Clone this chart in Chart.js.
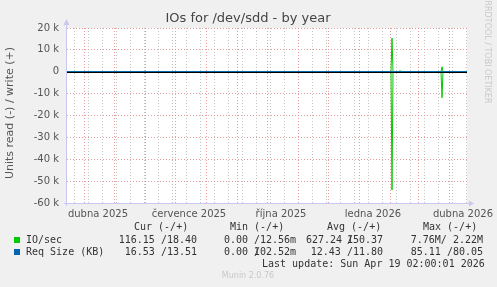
<!DOCTYPE html>
<html>
<head>
<meta charset="utf-8">
<script src="https://cdn.jsdelivr.net/npm/chart.js@4/dist/chart.umd.min.js"></script>
<style>
  html, body { margin: 0; padding: 0; background: #f0f0f0; }
  canvas { display: block; }
</style>
</head>
<body>
<canvas id="chart" width="497" height="287"></canvas>
<script>
(function() {
    'use strict';

    // x values are days since the start of the 400 day window (15 Mar 2025)
    var readDays  = [0, 259, 260, 261, 273, 274, 275, 300, 301, 302, 324, 325, 326, 374, 375, 376, 400];
    var readVals  = [0, 0, -400, 0, 0, -500, 0, 0, -400, 0, 0, -54100, 0, 0, -11900, 0, 0];
    var writeDays = [0, 324, 325, 326, 332, 333, 334, 374, 375, 376, 400];
    var writeVals = [0, 0, 15400, 0, 0, 600, 0, 0, 2300, 0, 0];

    // request size series (KB) - far too small to show at this scale
    var reqDays  = [0, 400];
    var reqRead  = [-12.43, -16.53];
    var reqWrite = [11.80, 13.51];

    // grid: month starts (red), every second week (grey), quarter labels mid month
    var monthStarts = [17, 47, 78, 108, 139, 170, 200, 231, 261, 292, 323, 351, 382];
    var labelDays   = [31, 122, 214, 306, 396];
    var labelNames  = ['dubna 2025', 'července 2025', 'října 2025', 'ledna 2026', 'dubna 2026'];

    var legendRows = [
        { name: 'IO/sec',        color: '#00cc00', cur: '116.15 /18.40', min: ['0.00', '/', '12.56m'],  avg: ['627.24', '/', '150.37'], max: '7.76M/ 2.22M' },
        { name: 'Req Size (KB)', color: '#0066b3', cur: '16.53 /13.51',  min: ['0.00', '/', '102.52m'], avg: ['12.43 /11.80'],         max: '85.11 /80.05' }
    ];

    var minorDays = [];
    for (var d = 7; d <= 400; d += 14) minorDays.push(d);

    function pts(xs, ys) {
        return xs.map(function(x, i) { return { x: x, y: ys[i] }; });
    }

    function kind(v) {
        if (labelDays.indexOf(v) >= 0) return 'label';
        if (monthStarts.indexOf(v) >= 0) return 'major';
        return 'minor';
    }

    var RED = 'rgba(232,140,140,0.85)';
    var GREY = 'rgba(190,190,190,0.9)';
    var MONO = '10px "DejaVu Sans Mono"';

    var decor = {
        id: 'decor',
        beforeDraw: function(chart) {
            var c = chart.ctx, a = chart.chartArea;
            c.save();
            c.fillStyle = '#f0f0f0';
            c.fillRect(0, 0, chart.width, chart.height);
            c.fillStyle = '#ffffff';
            c.fillRect(a.left, a.top, a.right - a.left, a.bottom - a.top);
            c.restore();
        },
        afterDatasetsDraw: function(chart) {
            // black zero rule over the data
            var c = chart.ctx, a = chart.chartArea;
            var y0 = Math.round(chart.scales.y.getPixelForValue(0)) + 0.5;
            c.save();
            c.strokeStyle = '#000';
            c.lineWidth = 1;
            c.beginPath();
            c.moveTo(a.left, y0);
            c.lineTo(a.right, y0);
            c.stroke();
            c.restore();
        },
        afterDraw: function(chart) {
            var c = chart.ctx, a = chart.chartArea;
            c.save();

            // axes with arrow heads
            c.strokeStyle = '#c8c8f0';
            c.fillStyle = '#c8c8f0';
            c.lineWidth = 1;
            c.beginPath();
            c.moveTo(a.left - 0.5, a.bottom + 3);
            c.lineTo(a.left - 0.5, a.top - 4);
            c.moveTo(a.left - 3, a.bottom + 0.5);
            c.lineTo(a.right + 2, a.bottom + 0.5);
            c.stroke();
            c.beginPath();
            c.moveTo(a.left - 3.5, a.top - 3);
            c.lineTo(a.left + 2.5, a.top - 3);
            c.lineTo(a.left - 0.5, a.top - 9);
            c.closePath();
            c.fill();
            c.beginPath();
            c.moveTo(a.right + 2, a.bottom - 2.5);
            c.lineTo(a.right + 2, a.bottom + 3.5);
            c.lineTo(a.right + 7, a.bottom + 0.5);
            c.closePath();
            c.fill();

            // title
            c.fillStyle = '#444';
            c.font = '13px "DejaVu Sans"';
            c.textAlign = 'center';
            c.textBaseline = 'middle';
            c.fillText('IOs for /dev/sdd - by year', 248, 19);

            // vertical axis title
            c.save();
            c.translate(10, 113);
            c.rotate(-Math.PI / 2);
            c.fillStyle = '#555';
            c.font = '11px "DejaVu Sans"';
            c.fillText('Units read (-) / write (+)', 0, 0);
            c.restore();

            // rrdtool credit
            c.save();
            c.translate(487, 52);
            c.rotate(Math.PI / 2);
            c.fillStyle = '#c8c8c8';
            c.font = '8px "DejaVu Sans"';
            c.fillText('RRDTOOL / TOBI OETIKER', 0, 0);
            c.restore();

            // legend table
            c.font = MONO;
            c.textAlign = 'left';
            c.fillStyle = '#333';
            c.fillText('Cur (-/+)', 134, 227);
            c.fillText('Min (-/+)', 230, 227);
            c.fillText('Avg (-/+)', 327, 227);
            c.fillText('Max (-/+)', 423, 227);

            legendRows.forEach(function(row, i) {
                var y = 240 + i * 12;
                c.fillStyle = row.color;
                c.fillRect(14, y - 3, 6, 6);
                c.fillStyle = '#333';
                c.fillText(row.name, 26, y);
                c.textAlign = 'right';
                c.fillText(row.cur, 197, y);
                c.textAlign = 'left';
                c.fillText(row.min[0], 224, y);
                if (row.min.length > 1) {
                    c.fillText(row.min[1], 254, y);
                    c.textAlign = 'right';
                    c.fillText(row.min[2], 296, y);
                    c.textAlign = 'left';
                }
                c.textAlign = 'right';
                if (row.avg.length > 1) {
                    c.textAlign = 'left';
                    c.fillText(row.avg[0], 306, y);
                    c.fillText(row.avg[1], 347, y);
                    c.textAlign = 'right';
                    c.fillText(row.avg[2], 383, y);
                } else {
                    c.fillText(row.avg[0], 383, y);
                }
                c.fillText(row.max, 483, y);
                c.textAlign = 'left';
            });

            c.fillText('Last update: Sun Apr 19 02:00:01 2026', 262, 264);

            c.textAlign = 'center';
            c.fillStyle = '#c8c8c8';
            c.font = '8px "DejaVu Sans"';
            c.fillText('Munin 2.0.76', 248, 276);
            c.restore();
        }
    };

    new Chart(document.getElementById('chart').getContext('2d'), {
        type: 'line',
        data: {
            datasets: [
                { data: pts(reqDays, reqRead),   borderColor: '#0066b3' },
                { data: pts(reqDays, reqWrite),  borderColor: '#0066b3' },
                { data: pts(readDays, readVals), borderColor: '#00cc00' },
                { data: pts(writeDays, writeVals), borderColor: '#00cc00' }
            ]
        },
        options: {
            responsive: false,
            animation: false,
            devicePixelRatio: 1,
            layout: { padding: { top: 28, right: 30, bottom: 0, left: 0 } },
            elements: {
                line: { borderWidth: 1, tension: 0 },
                point: { radius: 0 }
            },
            plugins: {
                legend: { display: false },
                title: { display: false },
                tooltip: { enabled: false }
            },
            scales: {
                x: {
                    type: 'linear',
                    min: 0,
                    max: 400,
                    afterFit: function(s) { s.height = 84; },
                    afterBuildTicks: function(s) {
                        var vals = minorDays.filter(function(v) {
                            return monthStarts.indexOf(v) < 0;
                        }).concat(monthStarts, labelDays);
                        vals.sort(function(p, q) { return p - q; });
                        s.ticks = vals.map(function(v) { return { value: v }; });
                    },
                    grid: {
                        drawTicks: false,
                        color: function(ctx) {
                            var k = ctx.tick ? kind(ctx.tick.value) : 'minor';
                            if (k === 'label') return 'rgba(0,0,0,0)';
                            return k === 'major' ? RED : GREY;
                        }
                    },
                    border: { display: false, dash: [1, 2] },
                    ticks: {
                        autoSkip: false,
                        maxRotation: 0,
                        padding: 5,
                        color: '#555',
                        font: { family: 'DejaVu Sans', size: 10 },
                        callback: function(v) {
                            var i = labelDays.indexOf(v);
                            return i >= 0 ? labelNames[i] : '';
                        }
                    }
                },
                y: {
                    min: -60000,
                    max: 20000,
                    afterFit: function(s) { s.width = 67; },
                    grid: {
                        drawTicks: false,
                        color: function(ctx) {
                            return ctx.tick && ctx.tick.value % 10000 === 0 ? RED : GREY;
                        }
                    },
                    border: { display: false, dash: [1, 2] },
                    ticks: {
                        stepSize: 5000,
                        padding: 8,
                        color: '#555',
                        font: { family: 'DejaVu Sans', size: 10 },
                        callback: function(v) {
                            if (v % 10000 !== 0) return '';
                            return v === 0 ? '0' : (v / 1000) + ' k';
                        }
                    }
                }
            }
        },
        plugins: [decor]
    });
}());
</script>
</body>
</html>
